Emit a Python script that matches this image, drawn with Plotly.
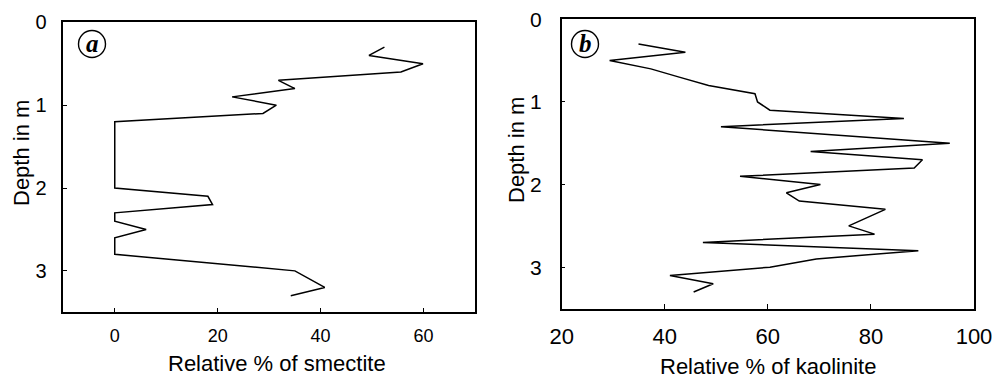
import plotly.graph_objects as go

# Panel a: smectite
depth_a = [0.3, 0.4, 0.5, 0.6, 0.7, 0.8, 0.9, 1.0, 1.1, 1.2, 2.0, 2.1, 2.2, 2.3, 2.4, 2.5, 2.6, 2.8, 3.0, 3.2, 3.3]
smectite = [52.4, 49.4, 59.9, 55.6, 31.8, 35.0, 22.8, 31.4, 28.8, 0, 0, 18.1, 19.0, 0, 0, 6.1, 0, 0, 35.0, 40.8, 34.2]

# Panel b: kaolinite
depth_b = [0.3, 0.4, 0.5, 0.6, 0.7, 0.8, 0.9, 1.0, 1.1, 1.2, 1.3, 1.5, 1.6, 1.7, 1.8, 1.9, 2.0, 2.1, 2.2, 2.3, 2.5, 2.6, 2.7, 2.8, 2.9, 3.0, 3.1, 3.2, 3.3]
kaolinite = [34.9, 44.0, 29.3, 37.3, 42.8, 48.5, 57.5, 58.0, 60.4, 86.4, 50.9, 95.3, 68.3, 90.0, 88.4, 54.6, 70.2, 63.6, 66.1, 82.8, 75.7, 80.7, 47.4, 89.2, 69.4, 60.4, 41.0, 49.4, 45.6]

xticks_a = [0, 20, 40, 60]
xticks_b = [20, 40, 60, 80, 100]
yticks = [0, 1, 2, 3]

W, H = 994, 379
fig = go.Figure()
fig.add_trace(go.Scatter(x=smectite, y=depth_a, mode="lines", line=dict(color="black", width=1.5),
                         xaxis="x", yaxis="y", showlegend=False))
fig.add_trace(go.Scatter(x=kaolinite, y=depth_b, mode="lines", line=dict(color="black", width=1.5),
                         xaxis="x2", yaxis="y2", showlegend=False))

axis_common = dict(showline=True, mirror=True, linecolor="black", linewidth=1.5,
                   showgrid=False, zeroline=False, ticks="inside", tickcolor="black",
                   tickwidth=1, automargin=False)

xa0, xa1 = 63.3 / W, 475 / W
xb0, xb1 = 561.7 / W, 974 / W
ya0, ya1 = 1 - 312.3 / H, 1 - 22.3 / H
yb0, yb1 = 1 - 308.5 / H, 1 - 19.3 / H

fig.update_layout(
    template="none",
    width=W, height=H, margin=dict(l=0, r=0, t=0, b=0, pad=0, autoexpand=False),
    paper_bgcolor="white", plot_bgcolor="white",
    font=dict(family="Liberation Sans, Arial, sans-serif", color="black"),
    xaxis=dict(domain=[xa0, xa1], range=[-10, 70], tickvals=xticks_a, ticklen=5,
               tickfont=dict(size=18), ticklabelstandoff=6, anchor="y", **axis_common),
    yaxis=dict(domain=[ya0, ya1], range=[3.5, 0], tickvals=yticks, ticklen=4,
               tickfont=dict(size=20), ticklabelstandoff=11, anchor="x", **axis_common),
    xaxis2=dict(domain=[xb0, xb1], range=[20, 100], tickvals=xticks_b, ticklen=5,
                tickfont=dict(size=22), ticklabelstandoff=7, anchor="y2", **axis_common),
    yaxis2=dict(domain=[yb0, yb1], range=[3.5, 0], tickvals=yticks, ticklen=4,
                tickfont=dict(size=21), ticklabelstandoff=14, anchor="x2", **axis_common),
)

anns = [
    dict(text="Relative % of smectite", x=276.5 / W, y=1 - 363 / H, font=dict(size=22)),
    dict(text="Relative % of kaolinite", x=768 / W, y=1 - 366 / H, font=dict(size=22)),
    dict(text="Depth in m", x=21 / W, y=1 - 153 / H, textangle=-90, font=dict(size=22)),
    dict(text="Depth in m", x=516 / W, y=1 - 150 / H, textangle=-90, font=dict(size=22)),
    dict(text="<b><i>a</i></b>", x=92 / W, y=1 - 44 / H,
         font=dict(size=25, family="Liberation Serif, Times New Roman, serif")),
    dict(text="<b><i>b</i></b>", x=585 / W, y=1 - 43 / H,
         font=dict(size=25, family="Liberation Serif, Times New Roman, serif")),
]
for a in anns:
    fig.add_annotation(xref="paper", yref="paper", showarrow=False,
                       xanchor="center", yanchor="middle", **a)

for cx, cy in [(92, 44), (585, 44)]:
    r = 13.5
    fig.add_shape(type="circle", xref="paper", yref="paper",
                  x0=(cx - r) / W, x1=(cx + r) / W, y0=1 - (cy + r) / H, y1=1 - (cy - r) / H,
                  line=dict(color="black", width=1.4))

fig.write_html("out.html")
